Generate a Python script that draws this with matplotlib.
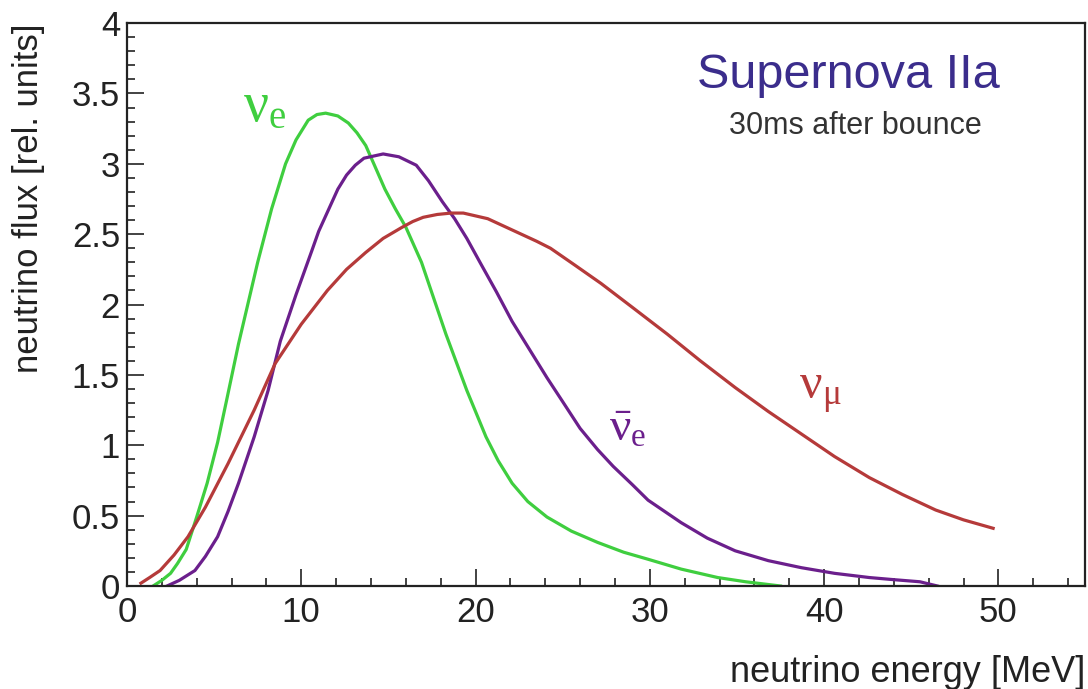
import numpy as np
import matplotlib.pyplot as plt
from matplotlib.ticker import MultipleLocator

plt.rcParams['font.family'] = ['Liberation Sans', 'DejaVu Sans']
plt.rcParams['mathtext.fontset'] = 'custom'
plt.rcParams['mathtext.rm'] = 'Liberation Serif'
plt.rcParams['mathtext.it'] = 'Liberation Serif:italic'

# electron neutrino spectrum
nue_E = [1.5, 2.0, 2.5, 2.9, 3.4, 4.0, 4.6, 5.2, 5.7, 6.4, 7.5, 8.3, 9.1, 9.7, 10.4, 10.9,
         11.4, 12.1, 12.7, 13.2, 13.7, 14.2, 14.8, 15.4, 16.0, 16.9, 18.3, 19.5, 20.6, 21.3,
         22.1, 23.0, 24.1, 25.5, 27.0, 28.5, 29.9, 31.8, 33.9, 35.5, 37.5]
nue_flux = [0.0, 0.04, 0.09, 0.16, 0.26, 0.49, 0.73, 1.02, 1.31, 1.72, 2.30, 2.68, 3.00, 3.17, 3.31, 3.35,
            3.36, 3.34, 3.29, 3.22, 3.13, 2.99, 2.82, 2.68, 2.55, 2.30, 1.79, 1.39, 1.06, 0.89,
            0.73, 0.60, 0.49, 0.39, 0.31, 0.24, 0.19, 0.12, 0.06, 0.03, 0.0]

# electron anti-neutrino spectrum
anue_E = [2.3, 3.0, 3.9, 4.5, 5.2, 5.8, 6.4, 7.3, 8.1, 8.8, 9.7, 10.6, 11.0, 12.1, 12.6, 13.1,
          13.6, 14.7, 15.6, 16.6, 17.3, 18.1, 18.8, 19.5, 20.3, 21.2, 22.1, 23.1, 24.1, 25.0, 26.0,
          27.0, 27.9, 29.0, 29.9, 31.8, 33.3, 34.9, 36.8, 38.7, 40.6, 42.6, 44.0, 45.5, 46.5]
anue_flux = [0.0, 0.04, 0.11, 0.21, 0.35, 0.53, 0.73, 1.06, 1.39, 1.74, 2.07, 2.38, 2.52, 2.82, 2.92, 2.99,
             3.04, 3.07, 3.05, 2.99, 2.88, 2.73, 2.61, 2.47, 2.29, 2.09, 1.88, 1.68, 1.48, 1.31, 1.12,
             0.97, 0.85, 0.72, 0.61, 0.45, 0.34, 0.25, 0.18, 0.13, 0.09, 0.06, 0.045, 0.03, 0.0]

# muon neutrino spectrum
numu_E = [0.8, 1.3, 1.9, 2.7, 3.5, 4.5, 5.8, 7.3, 8.5, 10.0, 11.5, 12.6, 13.7, 14.7, 15.8,
          16.4, 17.0, 17.8, 18.6, 19.3, 20.0, 20.7, 21.4, 22.8, 23.5, 24.3, 25.7, 27.2, 29.0,
          31.0, 32.9, 34.9, 36.8, 38.7, 40.6, 42.6, 44.5, 46.4, 48.0, 49.7]
numu_flux = [0.02, 0.06, 0.11, 0.22, 0.35, 0.56, 0.87, 1.25, 1.58, 1.86, 2.10, 2.25, 2.37, 2.47, 2.55,
             2.59, 2.62, 2.64, 2.65, 2.65, 2.63, 2.61, 2.57, 2.49, 2.45, 2.40, 2.28, 2.15, 1.98,
             1.79, 1.60, 1.41, 1.24, 1.08, 0.92, 0.77, 0.65, 0.54, 0.47, 0.41]

green = '#3fce3f'
purple = '#6b1f8c'
red = '#b53a3a'
ink = '#222222'

fig = plt.figure(figsize=(10.88, 6.89), dpi=100)
ax = fig.add_axes([0.1167, 0.1495, 0.881, 0.817])

ax.plot(nue_E, nue_flux, color=green, lw=2.3)
ax.plot(anue_E, anue_flux, color=purple, lw=2.3)
ax.plot(numu_E, numu_flux, color=red, lw=2.3)

ax.set_xlim(0, 55)
ax.set_ylim(0, 4)
ax.xaxis.set_major_locator(MultipleLocator(10))
ax.xaxis.set_minor_locator(MultipleLocator(2))
ax.yaxis.set_major_locator(MultipleLocator(0.5))
ax.yaxis.set_minor_locator(MultipleLocator(0.1))
ax.yaxis.set_major_formatter(plt.FuncFormatter(lambda v, p: f'{v:g}'))
ax.tick_params(which='both', direction='in', top=False, right=False, width=1.2,
               labelsize=25, colors=ink)
ax.tick_params(which='major', length=12)
ax.tick_params(which='minor', length=6)
ax.tick_params(axis='x', pad=7)
ax.tick_params(axis='y', pad=5)
for s in ax.spines.values():
    s.set_linewidth(1.6)
    s.set_color(ink)

ax.set_xlabel('neutrino energy [MeV]', fontsize=26, loc='right', color=ink)
ax.set_ylabel('neutrino flux [rel. units]', fontsize=25, loc='top', color=ink)
ax.xaxis.set_label_coords(1.0, -0.122)
ax.yaxis.set_label_coords(-0.086, 1.0)

ax.text(7.9, 3.40, r'$\mathrm{\nu}_\mathrm{e}$', color=green, fontsize=40, ha='center', va='center')
ax.text(28.7, 1.12, r'$\bar{\mathrm{\nu}}_\mathrm{e}$', color=purple, fontsize=34, ha='center', va='center')
ax.text(39.8, 1.37, r'$\mathrm{\nu}_\mathrm{\mu}$', color=red, fontsize=36, ha='center', va='center')

ax.text(41.4, 3.63, 'Supernova IIa', color='#3b2d8c', fontsize=35, ha='center', va='center')
ax.text(41.8, 3.27, '30ms after bounce', color='#333333', fontsize=22, ha='center', va='center')

fig.savefig('out.png', dpi=100)
